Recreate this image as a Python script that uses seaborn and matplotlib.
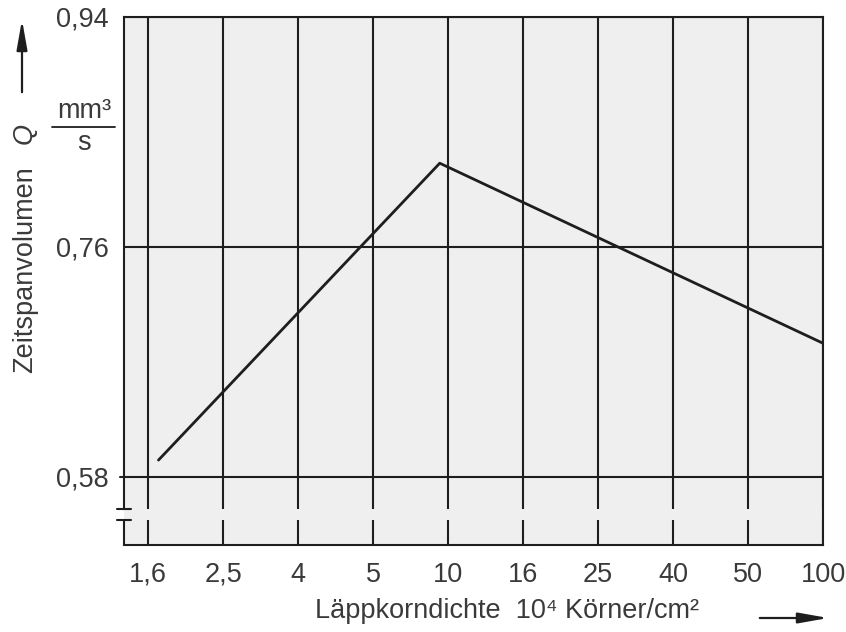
import matplotlib
matplotlib.use("Agg")
import matplotlib.pyplot as plt
import seaborn as sns
from matplotlib.lines import Line2D

# ---- data ----
x_tick_labels = ["1,6", "2,5", "4", "5", "10", "16", "25", "40", "50", "100"]
x_pos = [0.14, 3.89, 9.0]          # positions on the category axis
q_vals = [0.593, 0.8255, 0.6845]   # Zeitspanvolumen Q in mm³/s
y_ticks = [0.58, 0.76, 0.94]
y_tick_labels = ["0,58", "0,76", "0,94"]

sns.set_theme(style="white")
plt.rcParams["font.family"] = ["Liberation Sans", "DejaVu Sans"]

W, H = 846, 632
fig = plt.figure(figsize=(W / 100, H / 100), dpi=100)
ax = fig.add_axes([124 / W, 1 - 545 / H, (823 - 124) / W, (545 - 17) / H])

bg = "#efefef"
ink = "#1e1e1e"
txt = "#3a3a3a"
fs = 19.5

ax.set_facecolor(bg)
xmin, xmax = -0.32, 9.0
ymin, ymax = 0.5265, 0.94
ax.set_xlim(xmin, xmax)
ax.set_ylim(ymin, ymax)

sns.lineplot(x=x_pos, y=q_vals, sort=False, color=ink, lw=2.0, ax=ax, zorder=3)

ax.set_xticks(range(len(x_tick_labels)))
ax.set_xticklabels(x_tick_labels)
ax.set_yticks(y_ticks)
ax.set_yticklabels(y_tick_labels)
ax.tick_params(axis="both", length=0, labelsize=fs, labelcolor=txt)
ax.tick_params(axis="x", pad=12)
ax.tick_params(axis="y", pad=11)
ax.set_xlabel("")
ax.set_ylabel("")

ax.set_axisbelow(True)
ax.grid(True, color=ink, lw=1.5)

for s in ax.spines.values():
    s.set_color(ink)
    s.set_linewidth(1.5)
    s.set_visible(True)

# small outward tick at 0,58
ax.plot([xmin - 0.05, xmin], [0.58, 0.58], color=ink, lw=1.5, clip_on=False, zorder=3)

# axis break
b_top, b_bot = 0.5548, 0.5462
ax.axhspan(b_bot, b_top, xmin=0, xmax=1, color=bg, zorder=0.8, lw=0)
ax.spines["left"].set_bounds(b_top, ymax)
frac_bot = (b_bot - ymin) / (ymax - ymin)
ax.axvline(xmin, ymin=0, ymax=frac_bot, color=ink, lw=1.5, clip_on=False, zorder=3)
d = 0.095
for yb in (b_top, b_bot):
    ax.plot([xmin - d, xmin + d], [yb, yb], color=ink, lw=1.5, clip_on=False, zorder=3)

# y label
fig.text(25 / W, 1 - 373 / H, "Zeitspanvolumen", rotation=90, ha="center", va="bottom",
         fontsize=fs, color=txt)
fig.text(25 / W, 1 - 133 / H, "Q", rotation=90, ha="center", va="center",
         fontsize=fs, color=txt, style="italic")
fig.text(84 / W, 1 - 111 / H, "mm³", ha="center", va="center", fontsize=fs, color=txt)
fig.text(84 / W, 1 - 143 / H, "s", ha="center", va="center", fontsize=fs, color=txt)
fig.add_artist(Line2D([52 / W, 115 / W], [1 - 127 / H, 1 - 127 / H], color=ink, lw=1.3,
                      transform=fig.transFigure))
arrow_style = "-|>,head_length=0.9,head_width=0.16"
ax.annotate("", xy=(22 / W, 1 - 17 / H), xytext=(22 / W, 1 - 95 / H),
            xycoords="figure fraction", textcoords="figure fraction",
            arrowprops=dict(arrowstyle=arrow_style, color=ink, lw=1.6, mutation_scale=20))

# x label
fig.text(315 / W, 1 - 611 / H, "Läppkorndichte  10⁴ Körner/cm²", ha="left", va="center",
         fontsize=fs, color=txt)
ax.annotate("", xy=(831 / W, 1 - 618 / H), xytext=(757 / W, 1 - 618 / H),
            xycoords="figure fraction", textcoords="figure fraction",
            arrowprops=dict(arrowstyle=arrow_style, color=ink, lw=1.6, mutation_scale=20))

fig.savefig("out.png", dpi=100, facecolor="white")
